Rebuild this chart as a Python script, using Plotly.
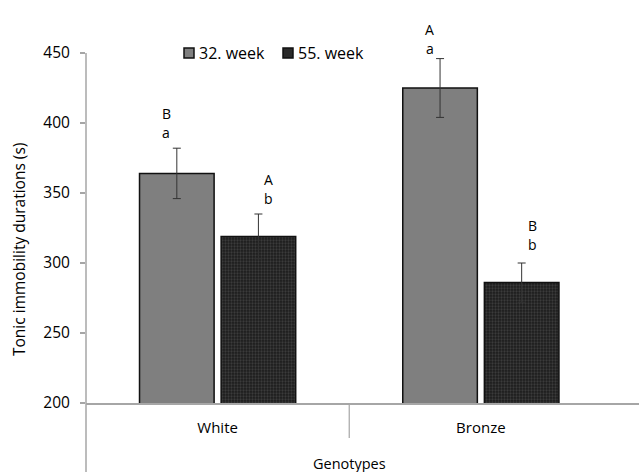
import plotly.graph_objects as go

categories = ["White", "Bronze"]
series_names = ["32. week", "55. week"]
week32 = [364, 425]
week32_err = [18, 21]
week55 = [319, 286]
week55_err = [16, 14]
labels32 = [("B", "a"), ("A", "a")]
labels55 = [("A", "b"), ("B", "b")]
y_ticks = [200, 250, 300, 350, 400, 450]

FONT = "Open Sans"
W, H = 639, 472
L, R, T, B = 86, 0, 53, 69
ph = H - T - B
pw = W - L - R
C32 = "#7f7f7f"
C55 = "#1c1c1c"

def px_x(p):
    return (p - L) / pw

def px_y(p):
    return (H - B - p) / ph

fig = go.Figure()
fig.add_trace(go.Bar(
    x=categories, y=week32, name=series_names[0], showlegend=False,
    marker=dict(color=C32, line=dict(color="#111111", width=1.5)),
    error_y=dict(type="data", array=week32_err, color="#333333", thickness=1, width=4),
))
fig.add_trace(go.Bar(
    x=categories, y=week55, name=series_names[1], showlegend=False,
    marker=dict(color=C55, line=dict(color="#111111", width=1.5),
                pattern=dict(shape=".", bgcolor=C55, fgcolor="#5a5a5a", size=3, solidity=0.45)),
    error_y=dict(type="data", array=week55_err, color="#333333", thickness=1, width=4),
))

# pixel offsets of the letter pairs above each error bar (lower, upper)
shifts32 = [(16, 35), (10, 29)]
shifts55 = [(16, 35), (19, 38)]

annotations = []
for vals, errs, labs, shs, xs in [(week32, week32_err, labels32, shifts32, -0.195),
                                  (week55, week55_err, labels55, shifts55, 0.195)]:
    for i, cat in enumerate(categories):
        top = vals[i] + errs[i]
        upper, lower = labs[i]
        s_lo, s_up = shs[i]
        annotations.append(dict(x=i + xs, y=top, xref="x", yref="y", text=lower, showarrow=False,
                                yshift=s_lo, font=dict(family=FONT, size=14, color="#000")))
        annotations.append(dict(x=i + xs, y=top, xref="x", yref="y", text=upper, showarrow=False,
                                yshift=s_up, font=dict(family=FONT, size=14, color="#000")))
annotations.append(dict(x=0.5, y=px_y(463), xref="x", yref="paper", text="Genotypes",
                        showarrow=False, yanchor="middle", font=dict(family=FONT, size=14.5, color="#000")))
annotations.append(dict(x=px_x(19), y=px_y(250), xref="paper", yref="paper",
                        text="Tonic immobility durations (s)", textangle=-90, showarrow=False,
                        xanchor="center", yanchor="middle",
                        font=dict(family=FONT, size=15.5, color="#000")))

shapes = [
    dict(type="line", xref="paper", yref="paper", x0=0, x1=0, y0=-B / ph, y1=1,
         line=dict(color="#a6a6a6", width=1.5)),
    dict(type="line", xref="x", yref="paper", x0=0.5, x1=0.5, y0=0, y1=px_y(438),
         line=dict(color="#a6a6a6", width=1.2)),
]

# legend (drawn manually to match the reference placement)
legend_items = [(series_names[0], C32, 184), (series_names[1], "#2a2a2a", 283)]
for name, col, x0 in legend_items:
    shapes.append(dict(type="rect", xref="paper", yref="paper",
                       x0=px_x(x0), x1=px_x(x0 + 10), y0=px_y(58), y1=px_y(48),
                       fillcolor=col, line=dict(color="#111", width=1.5)))
    annotations.append(dict(x=px_x(x0 + 13), y=px_y(53), xref="paper", yref="paper", text=name,
                            showarrow=False, xanchor="left", yanchor="middle",
                            font=dict(family=FONT, size=16, color="#000")))

fig.update_layout(
    width=W, height=H,
    margin=dict(l=L, r=R, t=T, b=B, autoexpand=False),
    paper_bgcolor="white", plot_bgcolor="white",
    barmode="group", bargap=0.38, bargroupgap=0.086,
    font=dict(family=FONT, size=14, color="#000"),
    showlegend=False,
    annotations=annotations,
    shapes=shapes,
)
fig.update_xaxes(range=[-0.5, 1 + (W - 481) / 263], showline=True, linecolor="#a6a6a6", linewidth=1.5,
                 ticks="outside", ticklen=10, tickcolor="rgba(0,0,0,0)", showgrid=False, zeroline=False,
                 automargin=False, tickfont=dict(family=FONT, size=15, color="#000"))
fig.update_yaxes(range=[200, 450], tickvals=y_ticks, showline=False, ticks="outside", ticklen=5,
                 tickcolor="#a6a6a6", tickwidth=1.5, showgrid=False, zeroline=False,
                 automargin=False, ticklabelstandoff=7,
                 tickfont=dict(family=FONT, size=15.5, color="#000"))

fig.write_html("out.html", config={"displayModeBar": False},
               post_script="document.body.style.margin='0px';")
